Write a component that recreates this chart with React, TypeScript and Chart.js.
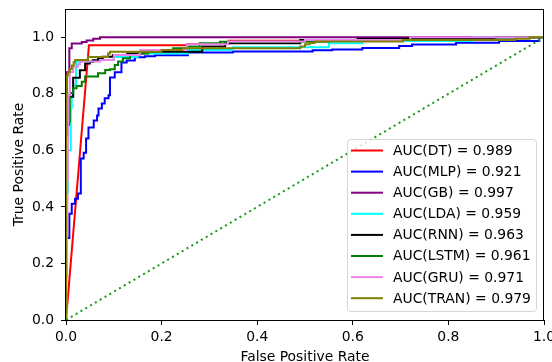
import { useEffect, useRef } from 'react';
import { Chart, registerables } from 'chart.js';

Chart.register(...registerables);

const FONT_FAMILY = '"DejaVu Sans", "Liberation Sans", sans-serif';
const FONT_SIZE = 13.9;

const modelNames = ['DT', 'MLP', 'GB', 'LDA', 'RNN', 'LSTM', 'GRU', 'TRAN'];
const aucLabels = ['0.989', '0.921', '0.997', '0.959', '0.963', '0.961', '0.971', '0.979'];
const lineColors = ['#ff0000', '#0000ff', '#800080', '#00ffff', '#000000', '#008000', '#ee82ee', '#808000'];
const steppedModes: (false | 'before')[] = [false, 'before', 'before', 'before', 'before', 'before', 'before', 'before'];

// ROC curves: points are the top of each rise (step drawn right, then up)
const dtFpr = [0, 0.048, 0.253, 0.253, 0.34, 0.34, 0.72, 0.72, 1];
const dtTpr = [0, 0.972, 0.972, 0.976, 0.976, 0.988, 0.988, 1, 1];

const mlpFpr = [0, 0, 0.007, 0.012, 0.019, 0.025, 0.031, 0.037, 0.042, 0.047, 0.058, 0.065, 0.068, 0.075, 0.081, 0.089, 0.092, 0.102, 0.116, 0.127, 0.144, 0.165, 0.186, 0.255, 0.349, 0.516, 0.557, 0.62, 0.697, 0.724, 0.816, 0.906, 0.99, 1];
const mlpTpr = [0, 0.29, 0.376, 0.411, 0.429, 0.447, 0.571, 0.592, 0.642, 0.681, 0.706, 0.723, 0.748, 0.766, 0.784, 0.795, 0.858, 0.876, 0.911, 0.918, 0.929, 0.933, 0.936, 0.946, 0.95, 0.954, 0.957, 0.962, 0.969, 0.974, 0.981, 0.987, 1, 1];

const gbFpr = [0, 0, 0.0015, 0.007, 0.012, 0.033, 0.043, 0.057, 0.071, 1];
const gbTpr = [0, 0.69, 0.876, 0.961, 0.978, 0.983, 0.989, 0.995, 1, 1];

const ldaFpr = [0, 0, 0.004, 0.01, 0.012, 0.015, 0.021, 0.06, 0.1, 0.15, 0.255, 0.349, 0.55, 0.62, 0.85, 1];
const ldaTpr = [0, 0.45, 0.6, 0.75, 0.79, 0.83, 0.914, 0.92, 0.93, 0.943, 0.955, 0.965, 0.979, 0.987, 1, 1];

const rnnFpr = [0, 0, 0.006, 0.015, 0.029, 0.04, 0.05, 0.056, 0.067, 0.077, 0.098, 0.128, 0.16, 0.285, 0.333, 0.49, 0.61, 0.9, 1];
const rnnTpr = [0, 0.69, 0.79, 0.857, 0.883, 0.907, 0.913, 0.919, 0.926, 0.931, 0.937, 0.943, 0.949, 0.967, 0.979, 0.99, 0.995, 1, 1];

const lstmFpr = [0, 0, 0.002, 0.008, 0.015, 0.022, 0.033, 0.04, 0.067, 0.082, 0.092, 0.102, 0.109, 0.119, 0.134, 0.151, 0.172, 0.19, 0.224, 0.253, 0.28, 0.322, 0.55, 0.9, 1];
const lstmTpr = [0, 0.52, 0.7, 0.803, 0.82, 0.828, 0.843, 0.861, 0.873, 0.884, 0.887, 0.902, 0.914, 0.926, 0.937, 0.943, 0.949, 0.955, 0.961, 0.967, 0.979, 0.984, 0.99, 1, 1];

const gruFpr = [0, 0.001, 0.002, 0.003, 0.004, 0.005, 0.008, 0.015, 0.025, 0.029, 0.071, 0.1, 0.155, 0.253, 0.339, 0.5, 0.72, 1];
const gruTpr = [0, 0.15, 0.3, 0.5, 0.65, 0.796, 0.877, 0.896, 0.905, 0.914, 0.92, 0.937, 0.955, 0.975, 0.985, 0.99, 1, 1];

const tranFpr = [0, 0, 0.004, 0.008, 0.012, 0.016, 0.019, 0.046, 0.088, 0.092, 0.2, 0.243, 0.49, 0.5, 0.51, 0.52, 0.705, 0.94, 0.97, 1];
const tranTpr = [0, 0.865, 0.876, 0.888, 0.9, 0.912, 0.92, 0.93, 0.943, 0.949, 0.955, 0.961, 0.967, 0.975, 0.98, 0.985, 0.99, 0.995, 1, 1];

const curveFpr = [dtFpr, mlpFpr, gbFpr, ldaFpr, rnnFpr, lstmFpr, gruFpr, tranFpr];
const curveTpr = [dtTpr, mlpTpr, gbTpr, ldaTpr, rnnTpr, lstmTpr, gruTpr, tranTpr];

const diagonalFpr = [0, 1];
const diagonalTpr = [0, 1];
const diagonalColor = '#1f9a1f';

const axisTicks = [0, 0.2, 0.4, 0.6, 0.8, 1.0];
const xTitle = 'False Positive Rate';
const yTitle = 'True Positive Rate';

const LINE_W = 2;
const font = `${FONT_SIZE}px ${FONT_FAMILY}`;

const framePlugin = {
  id: 'axesFrame',
  afterDatasetsDraw(chart: any) {
    const { ctx, chartArea } = chart;
    const l = Math.round(chartArea.left) - 0.5;
    const r = Math.round(chartArea.right) - 0.5;
    const t = Math.round(chartArea.top) + 0.5;
    const b = Math.round(chartArea.bottom) + 0.5;
    ctx.save();
    ctx.strokeStyle = '#000';
    ctx.lineWidth = 1;
    ctx.strokeRect(l, t, r - l, b - t);
    ctx.restore();
  },
};

const legendPlugin = {
  id: 'rocLegend',
  afterDatasetsDraw(chart: any) {
    const { ctx, chartArea } = chart;
    ctx.save();
    ctx.font = font;
    const labels = modelNames.map((m, i) => `AUC(${m}) = ${aucLabels[i]}`);
    const textW = Math.max(...labels.map((s) => ctx.measureText(s).width));
    const padL = 3.5;
    const handle = 32;
    const gap = 10;
    const padR = 5.5;
    const rowH = 21.1;
    const padT = 11;
    const padB = 13.3;
    const w = padL + handle + gap + textW + padR;
    const h = padT + rowH * (labels.length - 1) + padB;
    const right = chartArea.right - 8;
    const bottom = chartArea.bottom - 9;
    const x0 = Math.round(right - w) + 0.5;
    const y0 = Math.round(bottom - h) + 0.5;
    const x1 = Math.round(right) + 0.5;
    const y1 = Math.round(bottom) + 0.5;
    const rad = 3;
    ctx.beginPath();
    ctx.moveTo(x0 + rad, y0);
    ctx.lineTo(x1 - rad, y0);
    ctx.arcTo(x1, y0, x1, y0 + rad, rad);
    ctx.lineTo(x1, y1 - rad);
    ctx.arcTo(x1, y1, x1 - rad, y1, rad);
    ctx.lineTo(x0 + rad, y1);
    ctx.arcTo(x0, y1, x0, y1 - rad, rad);
    ctx.lineTo(x0, y0 + rad);
    ctx.arcTo(x0, y0, x0 + rad, y0, rad);
    ctx.closePath();
    ctx.fillStyle = 'rgba(255,255,255,0.8)';
    ctx.fill();
    ctx.strokeStyle = '#d6d6d6';
    ctx.lineWidth = 1;
    ctx.stroke();

    ctx.textAlign = 'left';
    ctx.textBaseline = 'middle';
    labels.forEach((label, i) => {
      const cy = y0 + padT + rowH * i;
      ctx.beginPath();
      ctx.strokeStyle = lineColors[i];
      ctx.lineWidth = LINE_W;
      ctx.moveTo(x0 + padL, cy);
      ctx.lineTo(x0 + padL + handle, cy);
      ctx.stroke();
      ctx.fillStyle = '#000';
      ctx.fillText(label, x0 + padL + handle + gap, cy + 0.8);
    });
    ctx.restore();
  },
};

export default function App() {
  const ref = useRef<HTMLCanvasElement>(null);

  useEffect(() => {
    const canvas = ref.current;
    if (!canvas) return;

    const datasets: any[] = curveFpr.map((fpr, i) => ({
      label: `AUC(${modelNames[i]}) = ${aucLabels[i]}`,
      data: fpr.map((x, k) => ({ x, y: curveTpr[i][k] })),
      borderColor: lineColors[i],
      backgroundColor: lineColors[i],
      borderWidth: LINE_W,
      pointRadius: 0,
      showLine: true,
      fill: false,
      stepped: steppedModes[i],
      order: 20 - i,
    }));
    datasets.push({
      label: 'chance',
      data: diagonalFpr.map((x, k) => ({ x, y: diagonalTpr[k] })),
      borderColor: diagonalColor,
      backgroundColor: diagonalColor,
      borderWidth: 2,
      borderDash: [2.1, 3.5],
      pointRadius: 0,
      showLine: true,
      fill: false,
      order: 0,
    });

    const tickFont = { family: FONT_FAMILY, size: FONT_SIZE };
    const setTicks = (s: any) => {
      s.ticks = axisTicks.map((v) => ({ value: v }));
    };

    const chart = new Chart(canvas, {
      type: 'scatter',
      data: { datasets },
      plugins: [framePlugin, legendPlugin],
      options: {
        responsive: false,
        animation: false,
        devicePixelRatio: 1,
        events: [],
        layout: { padding: { top: 9, right: 8, left: 0, bottom: 0 } },
        plugins: { legend: { display: false }, tooltip: { enabled: false } },
        scales: {
          x: {
            type: 'linear',
            min: 0,
            max: 1,
            afterBuildTicks: setTicks,
            afterFit: (s: any) => {
              s.height = 42;
              s.paddingLeft = 0;
              s.paddingRight = 0;
            },
            ticks: {
              autoSkip: false,
              maxRotation: 0,
              padding: 4,
              color: '#000',
              font: tickFont,
              callback: (v: any) => Number(v).toFixed(1),
            },
            grid: { display: true, drawOnChartArea: false, drawTicks: true, tickLength: 5, color: '#000', lineWidth: 1 },
            border: { display: false },
            title: {
              display: true,
              text: xTitle,
              color: '#000',
              font: { family: FONT_FAMILY, size: FONT_SIZE, lineHeight: 0.7 },
              padding: { top: 0, bottom: 0 },
            },
          },
          y: {
            type: 'linear',
            min: 0,
            max: 1.1,
            afterBuildTicks: setTicks,
            afterFit: (s: any) => {
              s.width = 66;
              s.paddingTop = 0;
              s.paddingBottom = 0;
            },
            ticks: {
              autoSkip: false,
              padding: 7,
              color: '#000',
              font: tickFont,
              callback: (v: any) => Number(v).toFixed(1),
            },
            grid: { display: true, drawOnChartArea: false, drawTicks: true, tickLength: 5, color: '#000', lineWidth: 1 },
            border: { display: false },
            title: {
              display: true,
              text: yTitle,
              color: '#000',
              font: { family: FONT_FAMILY, size: FONT_SIZE, lineHeight: 1 },
              padding: { top: 12, bottom: 0 },
            },
          },
        },
      } as any,
    });

    return () => chart.destroy();
  }, []);

  return (
    <div style={{ position: 'absolute', left: 0, top: 0, width: 552, height: 362, background: '#fff' }}>
      <canvas ref={ref} width={552} height={362} style={{ display: 'block', width: 552, height: 362 }} />
    </div>
  );
}
